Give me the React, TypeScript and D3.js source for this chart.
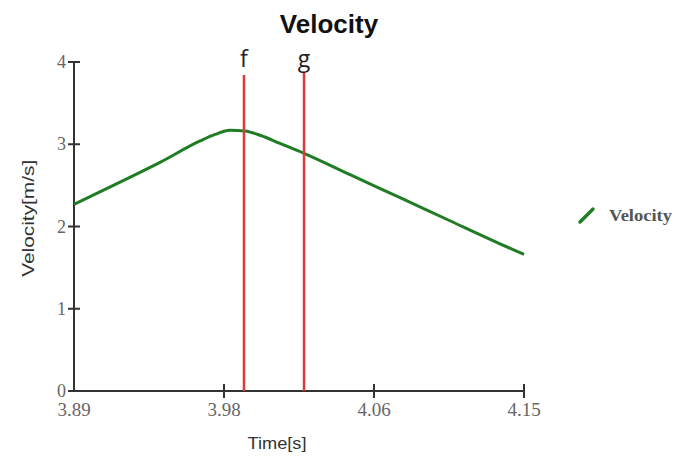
import * as d3 from "d3";

const times = [3.89, 3.9166, 3.9397, 3.9628, 3.9715, 3.9801, 3.9888, 3.9975, 4.009, 4.0229, 4.0495, 4.0784, 4.1072, 4.1361, 4.15];
const velocity = [2.27, 2.54, 2.78, 3.04, 3.12, 3.17, 3.16, 3.11, 3.01, 2.89, 2.63, 2.35, 2.07, 1.79, 1.66];
const markerNames = ["f", "g"];
const markerTimes = [3.9882, 4.0229];
const yTicks = [0, 1, 2, 3, 4];
const xTicks = [3.89, 3.89 + 0.26 / 3, 3.89 + 0.52 / 3, 4.15];

const width = 675;
const height = 457;
const margin = { left: 74, right: 151, top: 62, bottom: 66 };

export default function App() {
  const x = d3.scaleLinear().domain([3.89, 4.15]).range([margin.left, width - margin.right]);
  const y = d3.scaleLinear().domain([0, 4]).range([height - margin.bottom, margin.top]);

  const line = d3
    .line<number>()
    .x((_, i) => x(times[i]))
    .y((d) => y(d))
    .curve(d3.curveMonotoneX);

  const axisColor = "#333";
  const serif = "'Liberation Serif', 'Times New Roman', serif";
  const sans = "'Liberation Sans', Arial, sans-serif";
  const fmt = d3.format(".2f");
  const y0 = y(0);

  return (
    <svg
      width={width}
      height={height}
      style={{ position: "absolute", left: 0, top: 0, background: "#fff" }}
    >
      <text x={329} y={33} textAnchor="middle" fontFamily={sans} fontWeight="bold" fontSize={26} fill="#111">
        Velocity
      </text>

      {/* y axis */}
      <line x1={x(3.89)} x2={x(3.89)} y1={y(4)} y2={y0} stroke={axisColor} strokeWidth={2} />
      {yTicks.map((t) => (
        <g key={"y" + t}>
          <line x1={x(3.89) - 6} x2={x(3.89) + 6} y1={y(t)} y2={y(t)} stroke={axisColor} strokeWidth={2} />
          <text x={x(3.89) - 8} y={y(t) + 6} textAnchor="end" fontFamily={serif} fontSize={18} fill="#666">
            {t}
          </text>
        </g>
      ))}

      {/* x axis */}
      <line x1={x(3.89)} x2={x(4.15)} y1={y0} y2={y0} stroke={axisColor} strokeWidth={2} />
      {xTicks.map((t, i) => (
        <g key={"x" + i}>
          {i > 0 && <line x1={x(t)} x2={x(t)} y1={y0 - 7} y2={y0 + 7} stroke={axisColor} strokeWidth={2} />}
          <text x={x(t)} y={y0 + 25} textAnchor="middle" fontFamily={serif} fontSize={19} fill="#666">
            {fmt(t)}
          </text>
        </g>
      ))}

      <text x={277} y={449} textAnchor="middle" fontFamily={sans} fontSize={17} fill="#333" textLength={59} lengthAdjust="spacingAndGlyphs">
        Time[s]
      </text>
      <text
        transform={`translate(34, ${y(2.1)}) rotate(-90)`}
        textAnchor="middle"
        fontFamily={sans}
        fontSize={17}
        fill="#333"
        textLength={117}
        lengthAdjust="spacingAndGlyphs"
      >
        Velocity[m/s]
      </text>

      {/* series */}
      <path d={line(velocity) ?? ""} fill="none" stroke="#1f7d24" strokeWidth={3} strokeLinejoin="round" />

      {/* markers */}
      {markerTimes.map((t, i) => (
        <g key={markerNames[i]}>
          <line x1={x(t)} x2={x(t)} y1={i === 0 ? 75 : 72} y2={y0} stroke="#e0393a" strokeWidth={2.5} />
          <text x={x(t)} y={67} textAnchor="middle" fontFamily="'Open Sans', 'Noto Sans', sans-serif" fontSize={23} fill="#222">
            {markerNames[i]}
          </text>
        </g>
      ))}

      {/* legend */}
      <line x1={580} x2={593} y1={222} y2={209} stroke="#1f7d24" strokeWidth={3.5} strokeLinecap="round" />
      <text x={609} y={221} fontFamily={serif} fontSize={17} fontWeight="bold" fill="#555" textLength={63} lengthAdjust="spacingAndGlyphs">
        Velocity
      </text>
    </svg>
  );
}
